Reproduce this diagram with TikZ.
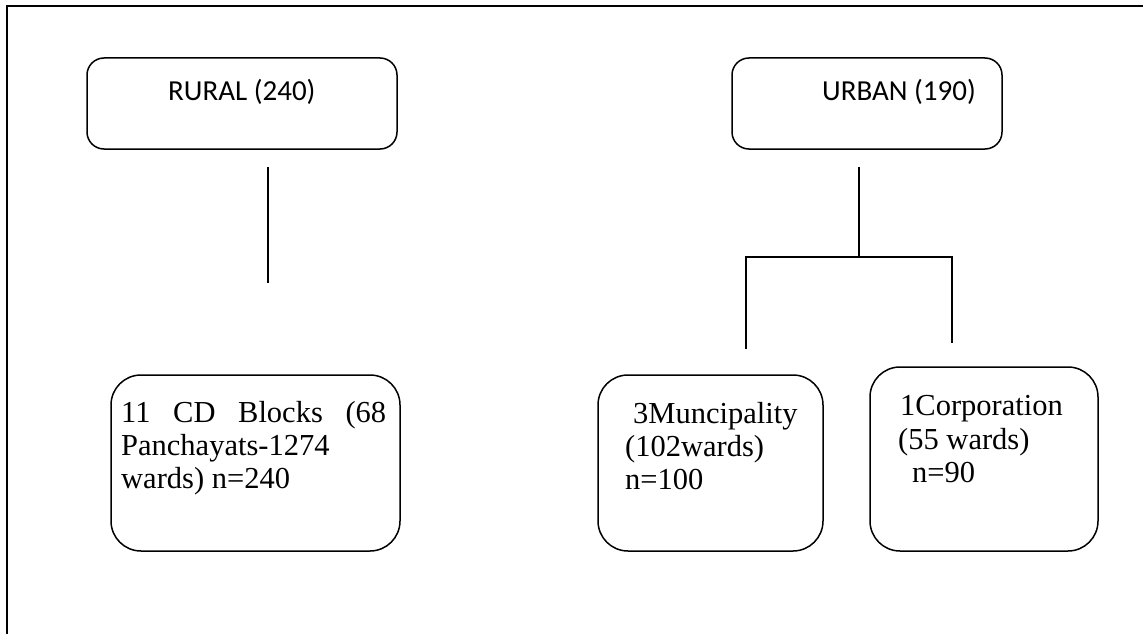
\documentclass[tikz,border=0pt]{standalone}
\usepackage{fontspec}
\setmainfont{Liberation Serif}
\newfontfamily\calib{Carlito}
\begin{document}
\begin{tikzpicture}[x=1pt,y=-1pt,
  topbox/.style={draw, line width=1.5pt, rounded corners=17pt},
  botbox/.style={draw, line width=1.5pt, rounded corners=30pt},
  conn/.style={line width=1.6pt},
  toptext/.style={anchor=base west, inner sep=0pt, font=\calib\fontsize{29}{34}\selectfont},
  bottext/.style={anchor=base west, inner sep=0pt, font=\fontsize{30.5}{33}\selectfont}]
\useasboundingbox (0,0) rectangle (1143,634);
% frame
\draw[line width=2pt] (7,634) -- (7,6) -- (1143,6);
% top boxes
\node[topbox, minimum width=310pt, minimum height=91pt] (rural) at (242,103.5) {};
\node[topbox, minimum width=270pt, minimum height=91pt] (urban) at (867,103.5) {};
\node[toptext] (ruraltxt) at (168,100) {RURAL (240)};
\node[toptext] (urbantxt) at (822,100) {URBAN (190)};
% bottom boxes
\node[botbox, minimum width=289pt, minimum height=176pt] (blocks) at (255.5,463) {};
\node[botbox, minimum width=225pt, minimum height=176pt] (munic) at (710.5,463) {};
\node[botbox, minimum width=228pt, minimum height=184pt] (corp) at (984,459) {};
% texts
\node[bottext] (b1) at (121,422) {\hbox to 265pt{11\hfill CD\hfill Blocks\hfill (68}};
\node[bottext] (b2) at (121,455) {Panchayats-1274};
\node[bottext] (b3) at (121,488) {wards) n=240};
\node[bottext] (m1) at (633,423) {3Muncipality};
\node[bottext] (m2) at (625,456) {(102wards)};
\node[bottext] (m3) at (625,489) {n=100};
\node[bottext] (c1) at (900,415) {1Corporation};
\node[bottext] (c2) at (898,449) {(55 wards)};
\node[bottext] (c3) at (912,482) {n=90};
% connectors
\coordinate (r1) at (268,167);
\coordinate (r2) at (268,283);
\coordinate (u1) at (859,167);
\coordinate (u2) at (859,257);
\coordinate (ul) at (746,257);
\coordinate (ur) at (952,257);
\coordinate (uld) at (746,349);
\coordinate (urd) at (952,343);
\draw[conn] (r1) -- (r2);
\draw[conn] (u1) -- (u2);
\draw[conn] (uld) -- (ul) -- (ur) -- (urd);
\end{tikzpicture}
\end{document}
